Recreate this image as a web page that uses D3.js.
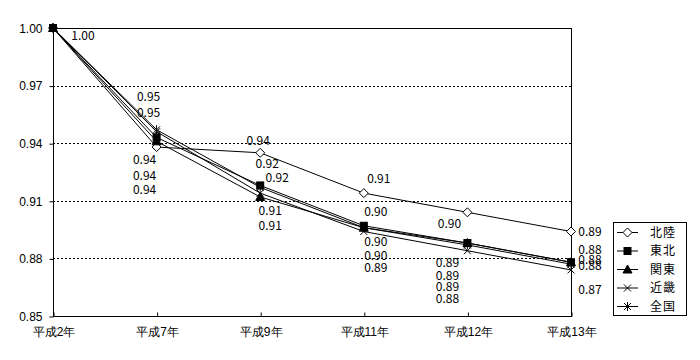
<!DOCTYPE html>
<html>
<head>
<meta charset="utf-8">
<script src="https://cdn.jsdelivr.net/npm/d3@7"></script>
<style>
  body { margin: 0; background: #fff; }
  svg { display: block; font-family: "Noto Sans CJK JP", sans-serif; }
  .axis-label, .val-label, .legend-label { font-size: 12px; fill: #000; }
</style>
</head>
<body>
<svg></svg>
<script>
const categories = ["平成2年", "平成7年", "平成9年", "平成11年", "平成12年", "平成13年"];
const seriesNames = ["北陸", "東北", "関東", "近畿", "全国"];
const hokuriku = [1.000, 0.938, 0.935, 0.914, 0.904, 0.894];
const tohoku   = [1.000, 0.943, 0.918, 0.897, 0.888, 0.878];
const kanto    = [1.000, 0.941, 0.912, 0.896, 0.888, 0.878];
const kinki    = [1.000, 0.946, 0.914, 0.894, 0.884, 0.874];
const zenkoku  = [1.000, 0.947, 0.917, 0.896, 0.887, 0.877];
const yTicks = [0.85, 0.88, 0.91, 0.94, 0.97, 1.00];

const seriesValues = [hokuriku, tohoku, kanto, kinki, zenkoku];

// hand placed data labels (dx, dy from the point), like the original sheet
const labelOffsets = {
  "北陸": [[30, 8], [-12, 13], [-2, -12], [15, -14], [-18, 11], [19, 0]],
  "東北": [[30, 8], [-12, 38], [17, -8], [12, -14], [-20, 20], [19, -12]],
  "関東": [[30, 8], [-12, 49], [10, 14], [12, 14], [-20, 33], [19, -2]],
  "近畿": [[30, 8], [-8, -19], [10, 33], [12, 36], [-20, 48], [19, 20]],
  "全国": [[30, 8], [-8, -33], [7, -24], [12, 28], [-20, 42], [19, 2]]
};
const markers = { "北陸": "diamond", "東北": "square", "関東": "triangle", "近畿": "cross", "全国": "star" };

const margin = { top: 28, left: 53 };
const width = 518, height = 288;

const svg = d3.select("svg").attr("width", 700).attr("height", 360);
const g = svg.append("g").attr("transform", `translate(${margin.left},${margin.top})`);

const x = d3.scalePoint().domain(categories).range([0, width]);
const y = d3.scaleLinear().domain([0.85, 1.00]).range([height, 0]);

// grid
g.selectAll(".grid").data(yTicks.filter(t => t > 0.85 && t < 1.0))
  .join("line")
  .attr("x1", 0).attr("x2", width)
  .attr("y1", d => Math.round(y(d)) + 0.5).attr("y2", d => Math.round(y(d)) + 0.5)
  .attr("stroke", "#000").attr("stroke-dasharray", "2,2");

// frame
g.append("rect").attr("x", 0.5).attr("y", 0.5).attr("width", width).attr("height", height)
  .attr("fill", "none").attr("stroke", "#000");

// y axis
const yAxis = g.append("g").attr("transform", "translate(0.5,0.5)")
  .call(d3.axisLeft(y).tickValues(yTicks).tickFormat(d3.format(".2f")).tickSize(4).tickPadding(7));
yAxis.select(".domain").remove();
yAxis.selectAll("text").attr("class", "axis-label").attr("font-family", null).attr("font-size", null);

// x axis, ticks pointing inward
const xAxis = g.append("g").attr("transform", `translate(0.5,${height + 0.5})`)
  .call(d3.axisBottom(x).tickSize(-4).tickPadding(11));
xAxis.select(".domain").remove();
xAxis.selectAll("text").attr("class", "axis-label").attr("font-family", null).attr("font-size", null);

function drawMarker(sel, type) {
  const s = sel.attr("stroke", "#000").attr("stroke-width", 1);
  if (type === "diamond") {
    s.append("path").attr("d", "M0,-4.5L4.5,0L0,4.5L-4.5,0Z").attr("fill", "#fff");
  } else if (type === "square") {
    s.append("rect").attr("x", -3.5).attr("y", -3.5).attr("width", 7).attr("height", 7).attr("fill", "#000");
  } else if (type === "triangle") {
    s.append("path").attr("d", "M0,-4.5L4.5,3.5L-4.5,3.5Z").attr("fill", "#000");
  } else if (type === "cross") {
    s.append("path").attr("d", "M-3.5,-3.5L3.5,3.5M-3.5,3.5L3.5,-3.5").attr("fill", "none");
  } else {
    s.append("path").attr("d", "M-3.5,-3.5L3.5,3.5M-3.5,3.5L3.5,-3.5M0,-4.5L0,4.5").attr("fill", "none");
  }
}

const line = d3.line().x((d, i) => x(categories[i])).y(d => y(d));

seriesNames.forEach((name, si) => {
  const vals = seriesValues[si];
  g.append("path").attr("d", line(vals)).attr("fill", "none").attr("stroke", "#000").attr("stroke-width", 1);
});

seriesNames.forEach((name, si) => {
  const vals = seriesValues[si];
  vals.forEach((v, i) => {
    const m = g.append("g").attr("transform", `translate(${x(categories[i])},${y(v)})`);
    drawMarker(m, markers[name]);
  });
});

// labels; identical labels at the same spot are drawn once
const placed = new Set();
seriesNames.forEach((name, si) => {
  const vals = seriesValues[si];
  vals.forEach((v, i) => {
    const [dx, dy] = labelOffsets[name][i];
    const lx = x(categories[i]) + dx, ly = y(v) + dy;
    const txt = d3.format(".2f")(v);
    const key = `${txt}@${Math.round(lx)},${Math.round(ly)}`;
    if (placed.has(key)) return;
    placed.add(key);
    g.append("text").attr("class", "val-label")
      .attr("x", lx).attr("y", ly)
      .attr("text-anchor", "middle").attr("dy", "0.35em")
      .text(txt);
  });
});

// legend
const legend = svg.append("g").attr("transform", "translate(613,222)");
legend.append("rect").attr("x", 0.5).attr("y", 0.5).attr("width", 73).attr("height", 93)
  .attr("fill", "#fff").attr("stroke", "#000");
seriesNames.forEach((name, i) => {
  const row = legend.append("g").attr("transform", `translate(0,${10.5 + i * 18.5})`);
  row.append("line").attr("x1", 4).attr("x2", 25).attr("stroke", "#000");
  drawMarker(row.append("g").attr("transform", "translate(14.5,0)"), markers[name]);
  row.append("text").attr("class", "legend-label").attr("x", 37).attr("dy", "0.35em")
    .attr("font-size", "13px").attr("letter-spacing", "1px").text(name);
});
</script>
</body>
</html>
